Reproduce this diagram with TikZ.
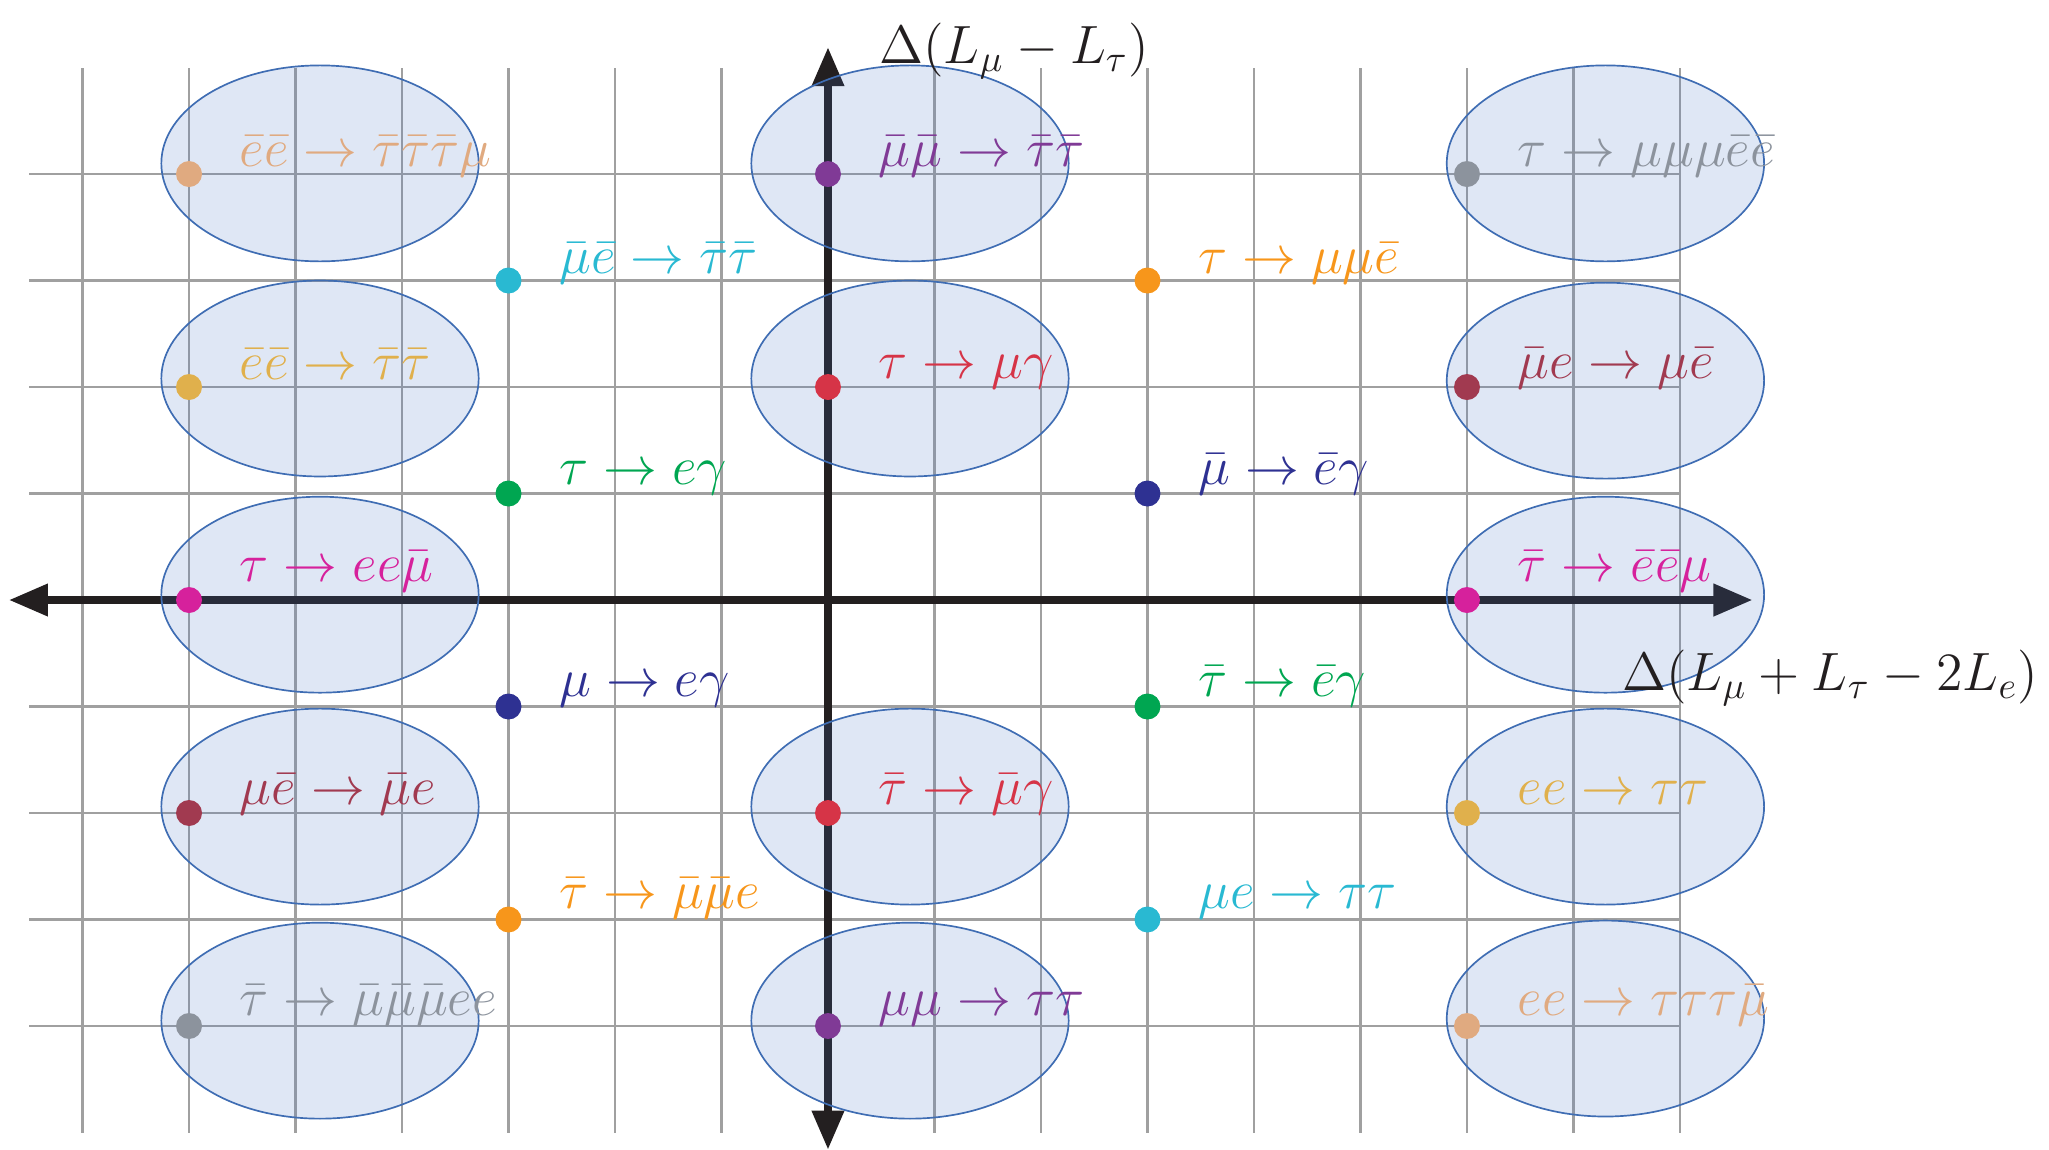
\documentclass[tikz,border=0pt]{standalone}
\usepackage{amsmath}
\usetikzlibrary{arrows.meta,shapes.geometric}
\definecolor{cPeach}{HTML}{E0AA80}
\definecolor{cGold}{HTML}{E0B04C}
\definecolor{cPurple}{HTML}{803A96}
\definecolor{cGray}{HTML}{8C939D}
\definecolor{cCyan}{HTML}{29B9D2}
\definecolor{cOrange}{HTML}{F7961B}
\definecolor{cRed}{HTML}{D63447}
\definecolor{cMaroon}{HTML}{A13A50}
\definecolor{cGreen}{HTML}{00A651}
\definecolor{cNavy}{HTML}{2E3192}
\definecolor{cMagenta}{HTML}{D6219C}
\definecolor{cAxis}{HTML}{231F20}
\definecolor{cGrid}{HTML}{A0A0A0}
\definecolor{cEllFill}{HTML}{4472C4}
\definecolor{cEll}{HTML}{3F6DB3}
\newcommand{\procpt}[6]{%
  \node[dotpt, fill=#3] (d#4) at (#1,#2) {};
  \node[lab, text=#3] (t#4) at (#1+0.47,#2+#6) {$#5$};
}
\begin{document}
\begin{tikzpicture}[x=1cm,y=1cm,
  gridline/.style={draw=cGrid, line width=0.55pt},
  axisline/.style={draw=cAxis, line width=1.9pt,
     {Triangle[length=10.4pt,width=8.3pt]}-{Triangle[length=10.4pt,width=8.3pt]}},
  ell/.style={ellipse, draw=cEll, line width=0.45pt, fill=cEllFill, fill opacity=0.17,
     draw opacity=1, minimum width=2.98cm, minimum height=1.84cm, inner sep=0pt},
  dotpt/.style={circle, minimum size=0.244cm, inner sep=0pt, draw=none},
  lab/.style={anchor=base west, inner sep=0pt, font=\fontsize{13.5}{16}\selectfont},
  axlab/.style={anchor=base west, inner sep=0pt, font=\fontsize{14.4}{17}\selectfont}]
\useasboundingbox (-7.775,-5.164) rectangle (11.465,5.634);
% grid
\foreach \gx in {-7,...,8} \draw[gridline] (\gx,-5) -- (\gx,5);
\foreach \gy in {-4,...,4} \draw[gridline] (-7.5,\gy) -- (8,\gy);
% axes
\coordinate (xl) at (-7.69,0);
\coordinate (xr) at (8.68,0);
\coordinate (yb) at (0,-5.16);
\coordinate (yt) at (0,5.19);
\draw[axisline] (xl) -- (xr);
\draw[axisline] (yb) -- (yt);
% ellipses
\foreach \cx/\cy/\n in {-4.77/4.1/L1,-4.77/2.08/L2,-4.77/0.05/L3,-4.77/-1.94/L4,-4.77/-3.95/L5,
  0.77/4.1/M1,0.77/2.08/M2,0.77/-1.94/M4,0.77/-3.95/M5,
  7.3/4.1/R1,7.3/2.06/R2,7.3/0.05/R3,7.3/-1.94/R4,7.3/-3.93/R5}
  \node[ell] (e\n) at (\cx,\cy) {};
% processes
\procpt{-6}{4}{cPeach}{1}{\bar e\bar e\to\bar\tau\bar\tau\bar\tau\mu}{0.07}
\procpt{-6}{2}{cGold}{2}{\bar e\bar e\to\bar\tau\bar\tau}{0.07}
\procpt{-6}{0}{cMagenta}{3}{\tau\to ee\bar\mu}{0.17}
\procpt{-6}{-2}{cMaroon}{4}{\mu\bar e\to\bar\mu e}{0.08}
\procpt{-6}{-4}{cGray}{5}{\bar\tau\to\bar\mu\bar\mu\bar\mu ee}{0.1}
\procpt{-3}{3}{cCyan}{6}{\bar\mu\bar e\to\bar\tau\bar\tau}{0.07}
\procpt{-3}{1}{cGreen}{7}{\tau\to e\gamma}{0.08}
\procpt{-3}{-1}{cNavy}{8}{\mu\to e\gamma}{0.09}
\procpt{-3}{-3}{cOrange}{9}{\bar\tau\to\bar\mu\bar\mu e}{0.1}
\procpt{0}{4}{cPurple}{10}{\bar\mu\bar\mu\to\bar\tau\bar\tau}{0.07}
\procpt{0}{2}{cRed}{11}{\tau\to\mu\gamma}{0.08}
\procpt{0}{-2}{cRed}{12}{\bar\tau\to\bar\mu\gamma}{0.08}
\procpt{0}{-4}{cPurple}{13}{\mu\mu\to\tau\tau}{0.1}
\procpt{3}{3}{cOrange}{14}{\tau\to\mu\mu\bar e}{0.07}
\procpt{3}{1}{cNavy}{15}{\bar\mu\to\bar e\gamma}{0.08}
\procpt{3}{-1}{cGreen}{16}{\bar\tau\to\bar e\gamma}{0.09}
\procpt{3}{-3}{cCyan}{17}{\mu e\to\tau\tau}{0.1}
\procpt{6}{4}{cGray}{18}{\tau\to\mu\mu\mu\bar e\bar e}{0.07}
\procpt{6}{2}{cMaroon}{19}{\bar\mu e\to\mu\bar e}{0.08}
\procpt{6}{0}{cMagenta}{20}{\bar\tau\to\bar e\bar e\mu}{0.17}
\procpt{6}{-2}{cGold}{21}{ee\to\tau\tau}{0.08}
\procpt{6}{-4}{cPeach}{22}{ee\to\tau\tau\tau\bar\mu}{0.1}
% axis labels
\node[axlab, text=cAxis] (ylab) at (0.475,5.04) {$\Delta(L_\mu-L_\tau)$};
\node[axlab, text=cAxis] (xlab) at (7.45,-0.845) {$\Delta(L_\mu+L_\tau-2L_e)$};
\end{tikzpicture}
\end{document}
